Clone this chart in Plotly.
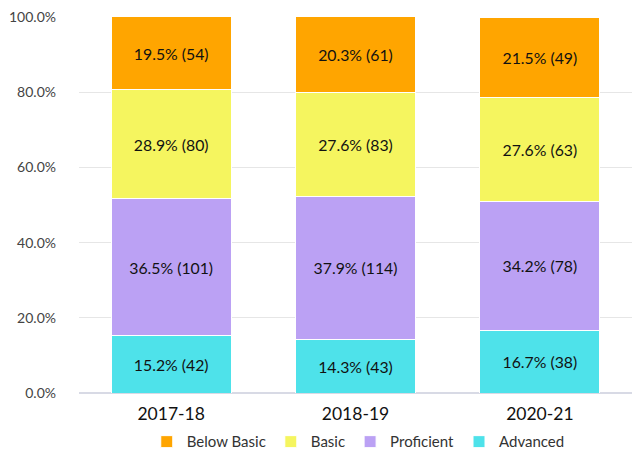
import plotly.graph_objects as go

years = ["2017-18", "2018-19", "2020-21"]
series_names = ["Advanced", "Proficient", "Basic", "Below Basic"]
pct_advanced = [15.2, 14.3, 16.7]
pct_proficient = [36.5, 37.9, 34.2]
pct_basic = [28.9, 27.6, 27.6]
pct_below = [19.5, 20.3, 21.5]
n_advanced = [42, 43, 38]
n_proficient = [101, 114, 78]
n_basic = [80, 83, 63]
n_below = [54, 61, 49]
colors = ["#4EE2EA", "#BBA1F4", "#F5F55F", "#FFA500"]
ytick_vals = [0, 20, 40, 60, 80, 100]
ytick_text = ["0.0%", "20.0%", "40.0%", "60.0%", "80.0%", "100.0%"]

pcts = [pct_advanced, pct_proficient, pct_basic, pct_below]
counts = [n_advanced, n_proficient, n_basic, n_below]

fig = go.Figure()
for name, p, n, c in zip(series_names, pcts, counts, colors):
    fig.add_trace(go.Bar(
        x=years, y=p, name=name,
        marker=dict(color=c, line=dict(color="white", width=1)),
        text=[f"{a}% ({b})" for a, b in zip(p, n)],
        textposition="inside", insidetextanchor="middle", textangle=0,
        constraintext="none",
        textfont=dict(family="Lato", size=15.8, color="#111111"),
        hoverinfo="skip",
    ))

fig.update_layout(
    barmode="stack",
    bargap=0.35,
    width=644, height=449,
    margin=dict(l=79, r=12, t=17, b=56, autoexpand=False),
    uniformtext=dict(minsize=15, mode="show"),
    plot_bgcolor="white", paper_bgcolor="white",
    font=dict(family="Lato", color="#444"),
    legend=dict(orientation="h", x=0.505, xanchor="center", y=-0.13, yanchor="middle",
                traceorder="reversed", font=dict(size=15, color="#333"),
                itemwidth=30),
    xaxis=dict(tickfont=dict(size=17.5, color="#111"), showgrid=False,
               showline=False, ticks="", ticklabelstandoff=8),
    yaxis=dict(range=[0, 100], tickvals=ytick_vals, ticktext=ytick_text,
               tickfont=dict(size=14, color="#444"), gridcolor="#e6e6e6",
               gridwidth=1, zeroline=True, zerolinecolor="#d8dae5",
               zerolinewidth=2, ticks="", ticklabelstandoff=22),
)

fig.write_html("out.html", config={"displayModeBar": False},
               post_script="document.body.style.margin='0';document.body.style.overflow='hidden';")
